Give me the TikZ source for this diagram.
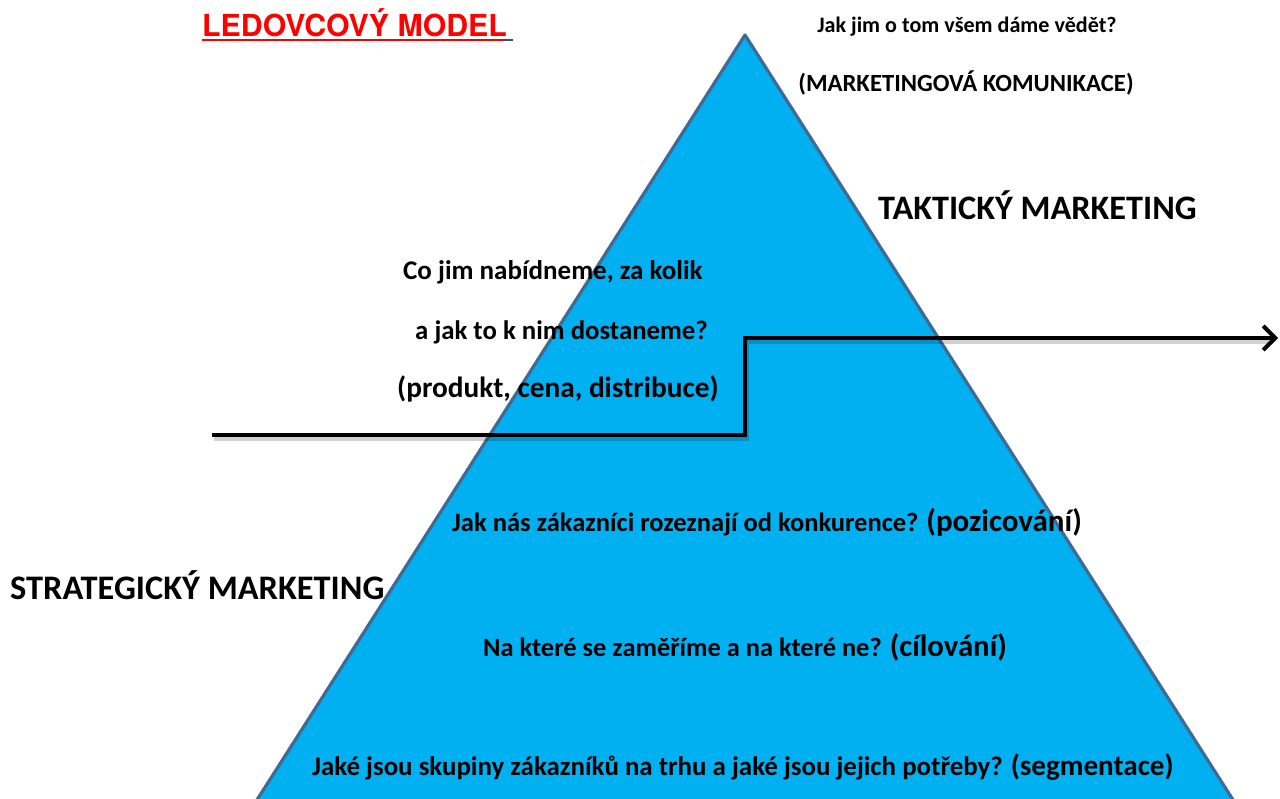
\documentclass[tikz,border=0pt]{standalone}
\usepackage{fontspec}
\setmainfont{Carlito}
\newfontfamily\titlefont{TeX Gyre Heros}
\usetikzlibrary{arrows.meta}
\definecolor{iceblue}{HTML}{00B0F0}
\definecolor{iceedge}{HTML}{3F6A95}
\definecolor{titlered}{HTML}{FF0000}
\begin{document}
\begin{tikzpicture}[x=1pt,y=-1pt,
  lbl/.style={inner sep=0pt,anchor=west,font=\bfseries},
  ctr/.style={inner sep=0pt,anchor=center,font=\bfseries},
  stepline/.style={line width=4pt,black,line join=miter},
  shadowline/.style={line width=5pt,black,opacity=0.18,line join=miter}]
\useasboundingbox (0,0) rectangle (1280,798);
\clip (0,0) rectangle (1280,798);
% the iceberg
\fill[iceblue] (745,35) -- (250.5,810) -- (1239.5,810) -- cycle;
\draw[iceedge,line width=3.2pt,line join=round] (250.5,810) -- (745,35) -- (1239.5,810);
% title
\node[inner sep=0pt,anchor=west,font=\titlefont\bfseries\fontsize{30.3}{32}\selectfont,text=titlered] (title) at (202,23) {LEDOVCOV\'Y MODEL};
\draw[titlered,line width=2pt] (title.south west) ++(0,3) -- ++(302,0) coordinate (ulend);
\draw[black!70,line width=2pt] (ulend) -- ++(9,0);
% tactical questions
\node[ctr,font=\bfseries\fontsize{22.1}{24}\selectfont] (q1) at (967,27) {Jak jim o tom všem dáme vědět?};
\node[ctr,font=\bfseries\fontsize{24.7}{26}\selectfont] (q1b) at (966,83) {(MARKETINGOVÁ KOMUNIKACE)};
\node[lbl,font=\bfseries\fontsize{34.3}{36}\selectfont] (tak) at (878,205) {TAKTICKÝ MARKETING};
\node[lbl,font=\bfseries\fontsize{27}{28}\selectfont] (q2a) at (403,272) {Co jim nabídneme, za kolik};
\node[lbl,font=\bfseries\fontsize{26.8}{28}\selectfont] (q2b) at (415,332) {a jak to k nim dostaneme?};
\node[lbl,font=\bfseries\fontsize{29.3}{30}\selectfont] (q2c) at (397,389) {(produkt, cena, distribuce)};
% the dividing line
\coordinate (ls) at (212,435);
\coordinate (s1) at (745,435);
\coordinate (s2) at (745,338);
\coordinate (le) at (1278,338);
\draw[shadowline] ([shift={(1.5,3)}]ls) -- ([shift={(1.5,3)}]s1) -- ([shift={(1.5,3)}]s2) -- ([shift={(-8,3)}]le);
\draw[stepline,-{Straight Barb[length=12pt,width=24pt]}] (ls) -- (s1) -- (s2) -- (le);
% strategic questions
\node[lbl,font=\bfseries\fontsize{26.5}{28}\selectfont] (q3) at (452,522) {Jak nás zákazníci rozeznají od konkurence? {\fontsize{31}{32}\selectfont(pozicování)}};
\node[lbl,font=\bfseries\fontsize{34.4}{36}\selectfont] (str) at (10,585) {STRATEGICKÝ MARKETING};
\node[lbl,font=\bfseries\fontsize{26.4}{28}\selectfont] (q4) at (483,647) {Na které se zaměříme a na které ne? {\fontsize{30.8}{32}\selectfont(cílování)}};
\node[lbl,font=\bfseries\fontsize{26.9}{28}\selectfont] (q5) at (312,767) {Jaké jsou skupiny zákazníků na trhu a jaké jsou jejich potřeby? {\fontsize{29.1}{30}\selectfont(segmentace)}};
\end{tikzpicture}
\end{document}
